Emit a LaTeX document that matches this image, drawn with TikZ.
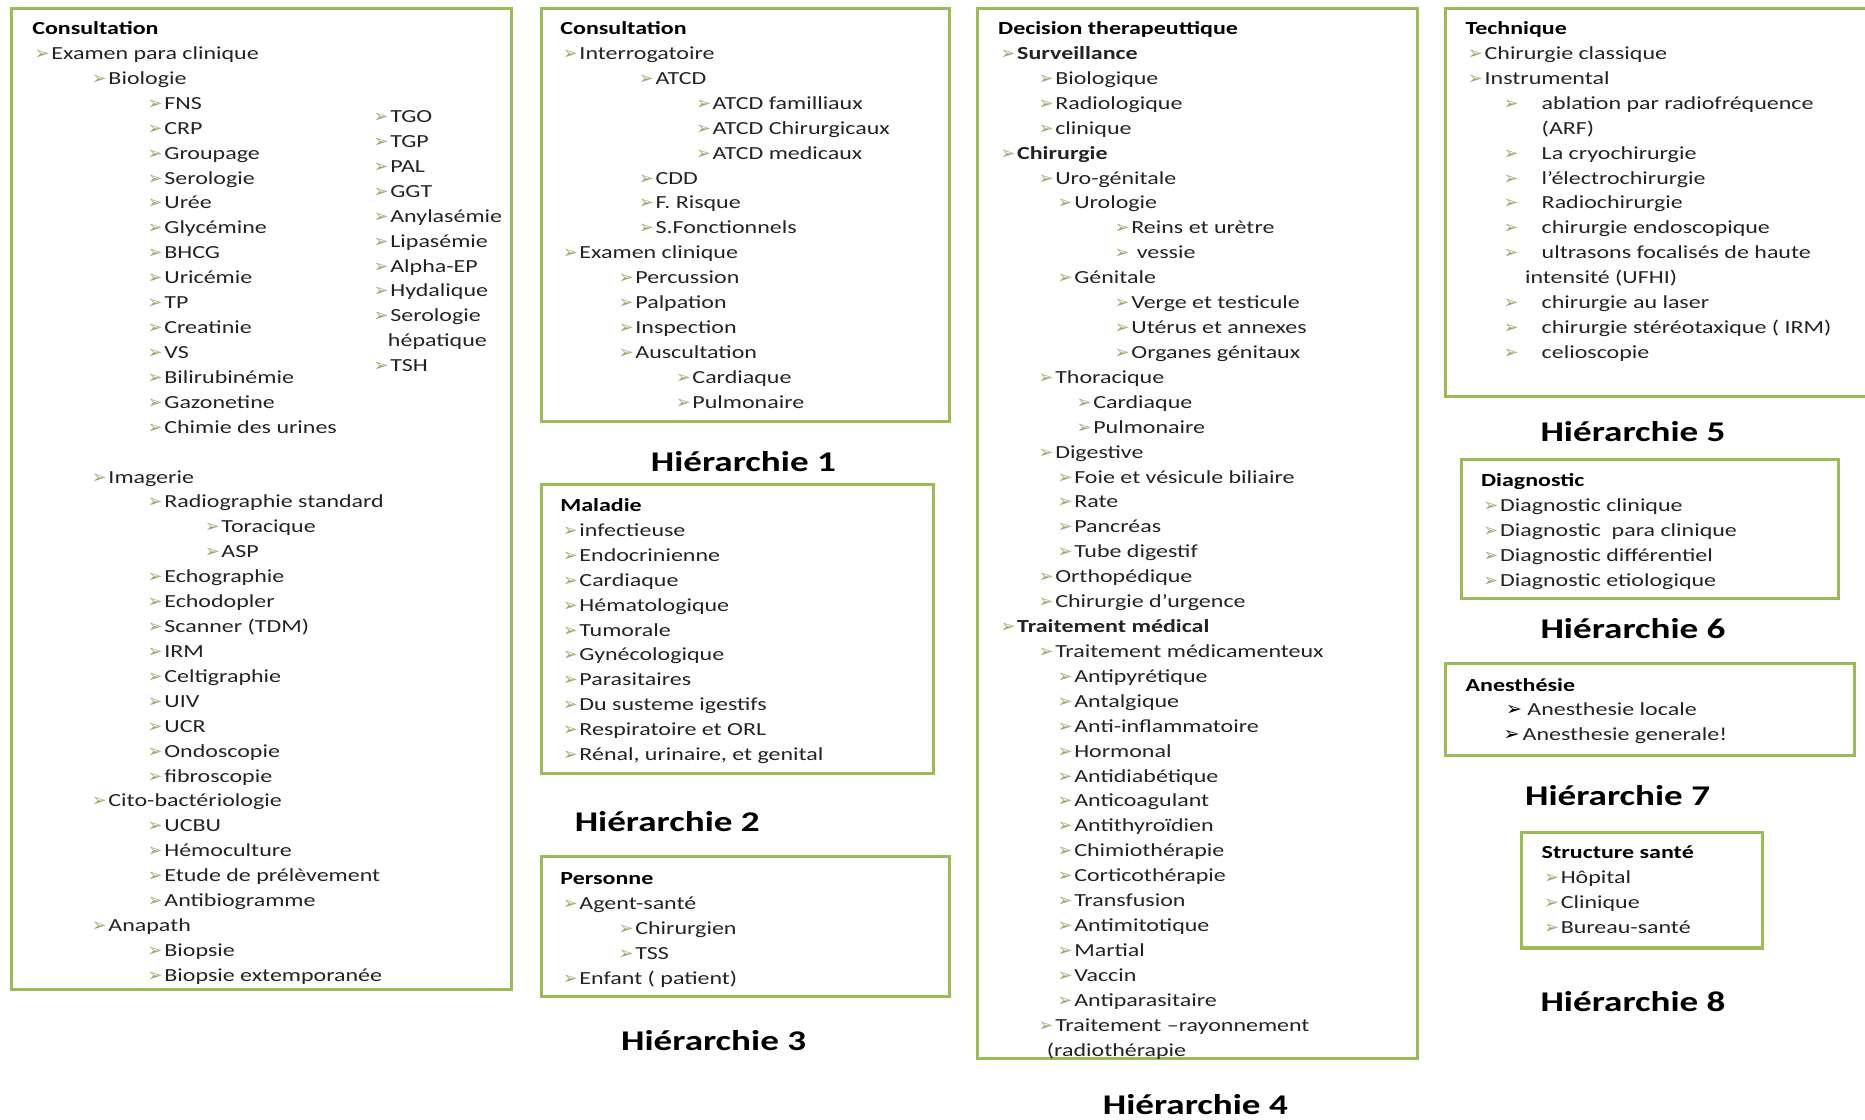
\documentclass[tikz,border=0pt]{standalone}
\usepackage{fontspec}
\setmainfont[FakeStretch=1.3]{Carlito}
\newfontfamily\dejavu{DejaVu Sans}

\definecolor{cadrevert}{RGB}{155,187,89}
\definecolor{pucevert}{RGB}{150,175,115}
\definecolor{texte}{RGB}{35,35,35}

\newcommand\interligne{20.95}
\newcommand\puce[1][13pt]{\makebox[#1][l]{\dejavu\fontsize{15}{15}\selectfont\color{pucevert}\kern-1pt➢}}
\newcommand\pucenoire[1][17pt]{\makebox[#1][l]{\dejavu\fontsize{16}{16}\selectfont\color{black}➢}}

\tikzset{
  cadre/.style={draw=cadrevert,line width=2.6pt,fill=white},
  titre/.style={anchor=base west,inner sep=0pt,text=black,font=\bfseries\fontsize{15.5}{18}\selectfont},
  ligne/.style={anchor=base west,inner sep=0pt,text=texte,font=\fontsize{15.5}{18}\selectfont},
  hier/.style={anchor=base,inner sep=0pt,text=black,font=\bfseries\fontsize{24}{28}\selectfont},
}

\begin{document}
\begin{tikzpicture}[x=1pt,y=-1pt]
  \useasboundingbox (0,0) rectangle (1568,941);

  % cadres
  \draw[cadre] (10,7) rectangle (430,832);
  \draw[cadre] (455,7) rectangle (798,354);
  \draw[cadre] (455,407) rectangle (785,650);
  \draw[cadre] (455,720) rectangle (798,838);
  \draw[cadre] (822,7) rectangle (1192,890);
  \draw[cadre] (1215,7) rectangle (1580,333);
  \draw[cadre] (1229,386) rectangle (1546,503);
  \draw[cadre] (1215,558) rectangle (1559,635);
  \draw[cadre] (1279,700) rectangle (1482,797);

  % colonne de gauche : examen para clinique
  \node[titre] (t0) at (27,29) {Consultation};
  \foreach \dx/\txt [count=\i] in {3/Examen para clinique, 51/Biologie, 98/FNS, 98/CRP, 98/Groupage,
      98/Serologie, 98/Urée, 98/Glycémine, 98/BHCG, 98/Uricémie, 98/TP, 98/Creatinie, 98/VS,
      98/Bilirubinémie, 98/Gazonetine, 98/Chimie des urines}
    \node[ligne] (c0-\i) at (27+\dx,29+\i*\interligne) {\puce\txt};
  \foreach \dx/\txt [count=\i from 18] in {51/Imagerie, 98/Radiographie standard, 146/Toracique,
      146/ASP, 98/Echographie, 98/Echodopler, 98/Scanner (TDM), 98/IRM, 98/Celtigraphie, 98/UIV,
      98/UCR, 98/Ondoscopie, 98/fibroscopie, 51/Cito-bactériologie, 98/UCBU, 98/Hémoculture,
      98/Etude de prélèvement, 98/Antibiogramme, 51/Anapath, 98/Biopsie, 98/Biopsie extemporanée}
    \node[ligne] (c0-\i) at (27+\dx,29+\i*\interligne) {\puce\txt};
  % deuxieme colonne du bilan
  \foreach \txt [count=\i from 0] in {TGO, TGP, PAL, GGT, Anylasémie, Lipasémie, Alpha-EP,
      Hydalique, Serologie}
    \node[ligne] (c0b-\i) at (315,103+\i*\interligne) {\puce\txt};
  \node[ligne] (c0b-9) at (326,103+9*\interligne) {hépatique};
  \node[ligne] (c0b-10) at (315,103+10*\interligne) {\puce TSH};

  % hierarchie 1
  \node[titre] (t1) at (471,29) {Consultation};
  \foreach \dx/\txt [count=\i] in {3/Interrogatoire, 67/ATCD, 115/ATCD familliaux,
      115/ATCD Chirurgicaux, 115/ATCD medicaux, 67/CDD, 67/F. Risque, 67/S.Fonctionnels,
      3/Examen clinique, 50/Percussion, 50/Palpation, 50/Inspection, 50/Auscultation,
      98/Cardiaque, 98/Pulmonaire}
    \node[ligne] (c1-\i) at (471+\dx,29+\i*\interligne) {\puce\txt};
  \node[hier] (h1) at (625,396) {Hiérarchie 1};

  % hierarchie 2
  \node[titre] (t2) at (471,430) {Maladie};
  \foreach \txt [count=\i] in {infectieuse, Endocrinienne, Cardiaque, Hématologique, Tumorale,
      Gynécologique, Parasitaires, Du susteme igestifs, Respiratoire et ORL,
      {Rénal, urinaire, et genital}}
    \node[ligne] (c2-\i) at (474,430+\i*\interligne) {\puce\txt};
  \node[hier] (h2) at (561,699) {Hiérarchie 2};

  % hierarchie 3
  \node[titre] (t3) at (471,744) {Personne};
  \foreach \dx/\txt [count=\i] in {3/Agent-santé, 50/Chirurgien, 50/TSS, 3/Enfant ( patient)}
    \node[ligne] (c3-\i) at (471+\dx,744+\i*\interligne) {\puce\txt};
  \node[hier] (h3) at (600,883) {Hiérarchie 3};

  % hierarchie 4
  \node[titre] (t4) at (839,29) {Decision therapeuttique};
  \foreach \dx/\txt [count=\i] in {3/\textbf{Surveillance}, 35/Biologique, 35/Radiologique,
      35/clinique, 3/\textbf{Chirurgie}, 35/Uro-génitale, 51/Urologie, 99/Reins et urètre,
      99/\ vessie, 51/Génitale, 99/Verge et testicule, 99/Utérus et annexes, 99/Organes génitaux,
      35/Thoracique, 67/Cardiaque, 67/Pulmonaire, 35/Digestive, 51/Foie et vésicule biliaire,
      51/Rate, 51/Pancréas, 51/Tube digestif, 35/Orthopédique, 35/Chirurgie d’urgence,
      3/\textbf{Traitement médical}, 35/Traitement médicamenteux, 51/Antipyrétique,
      51/Antalgique, 51/Anti-inflammatoire, 51/Hormonal, 51/Antidiabétique, 51/Anticoagulant,
      51/Antithyroïdien, 51/Chimiothérapie, 51/Corticothérapie, 51/Transfusion,
      51/Antimitotique, 51/Martial, 51/Vaccin, 51/Antiparasitaire, 35/Traitement –rayonnement}
    \node[ligne] (c4-\i) at (839+\dx,29+\i*\interligne) {\puce\txt};
  \node[ligne] (c4-41) at (880,29+41*\interligne) {(radiothérapie};
  \node[hier] (h4) at (1005,937) {Hiérarchie 4};

  % hierarchie 5
  \node[titre] (t5) at (1232,29) {Technique};
  \foreach \txt [count=\i] in {Chirurgie classique, Instrumental}
    \node[ligne] (c5-\i) at (1235,29+\i*\interligne) {\puce\txt};
  \foreach \r/\txt in {3/ablation par radiofréquence, 5/La cryochirurgie, 6/l’électrochirurgie,
      7/Radiochirurgie, 8/chirurgie endoscopique, 9/ultrasons focalisés de haute,
      11/chirurgie au laser, 12/chirurgie stéréotaxique ( IRM), 13/celioscopie}
    \node[ligne] (c5-\r) at (1265,29+\r*\interligne) {\puce[31pt]\txt};
  \node[ligne] (c5-4) at (1296,29+4*\interligne) {(ARF)};
  \node[ligne] (c5-10) at (1282,29+10*\interligne) {intensité (UFHI)};
  \node[hier] (h5) at (1373,371) {Hiérarchie 5};

  % hierarchie 6
  \node[titre] (t6) at (1245,409) {Diagnostic};
  \foreach \txt [count=\i] in {Diagnostic clinique, Diagnostic\ \ para clinique,
      Diagnostic différentiel, Diagnostic etiologique}
    \node[ligne] (c6-\i) at (1248,409+\i*\interligne) {\puce\txt};
  \node[hier] (h6) at (1373,537) {Hiérarchie 6};

  % hierarchie 7
  \node[titre] (t7) at (1232,581) {Anesthésie};
  \node[ligne] (c7-1) at (1266,581+\interligne) {\pucenoire[18pt]Anesthesie locale};
  \node[ligne] (c7-2) at (1264,581+2*\interligne) {\pucenoire[16pt]Anesthesie generale!};
  \node[hier] (h7) at (1360,677) {Hiérarchie 7};

  % hierarchie 8
  \node[titre] (t8) at (1296,722) {Structure santé};
  \foreach \txt [count=\i] in {Hôpital, Clinique, Bureau-santé}
    \node[ligne] (c8-\i) at (1299,722+\i*\interligne) {\puce\txt};
  \node[hier] (h8) at (1373,850) {Hiérarchie 8};
\end{tikzpicture}
\end{document}
